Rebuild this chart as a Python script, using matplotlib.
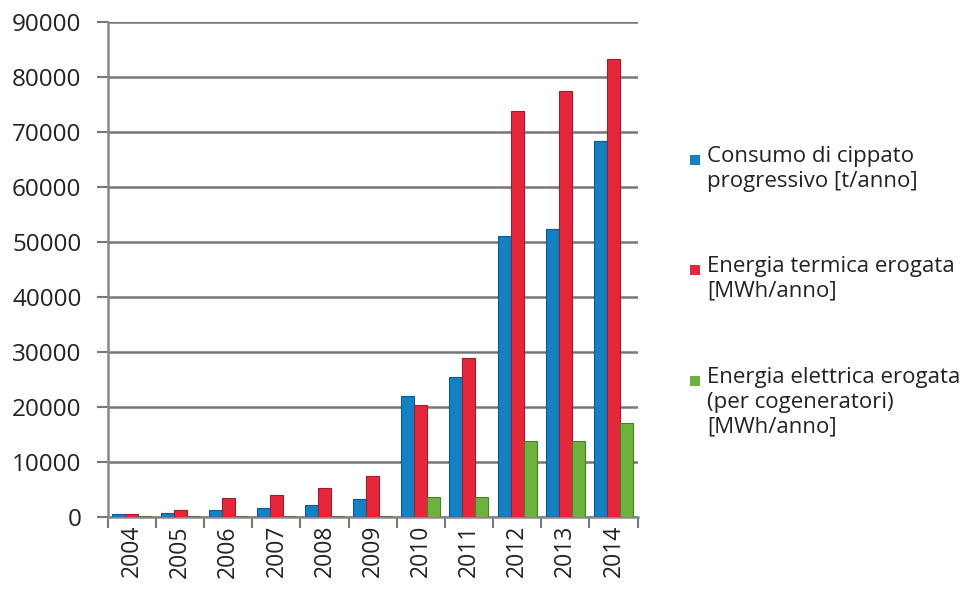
import numpy as np
import matplotlib
matplotlib.use('Agg')
import matplotlib.pyplot as plt
from matplotlib.patches import Rectangle

years = ['2004', '2005', '2006', '2007', '2008', '2009', '2010', '2011', '2012', '2013', '2014']
cippato = [500, 600, 1300, 1600, 2100, 3200, 22000, 25500, 51000, 52300, 68300]
termica = [500, 1200, 3400, 4000, 5200, 7400, 20300, 28800, 73800, 77500, 83300]
elettrica = [150, 150, 150, 150, 150, 150, 3600, 3600, 13700, 13700, 17000]

labels = ['Consumo di cippato\nprogressivo [t/anno]',
          'Energia termica erogata\n[MWh/anno]',
          'Energia elettrica erogata\n(per cogeneratori)\n[MWh/anno]']
colors = ['#1480c4', '#e4283c', '#6db23f']
edges = ['#0d5a8c', '#a51a2a', '#4a7f2a']

plt.rcParams['font.family'] = ['Open Sans', 'DejaVu Sans']

fig = plt.figure(figsize=(9.63, 5.94), dpi=100)
ax = fig.add_axes([0.112, 0.13, 0.55, 0.833])

x = np.arange(len(years))
w = 0.27
for i, (vals, c, e) in enumerate(zip([cippato, termica, elettrica], colors, edges)):
    ax.bar(x + (i - 1) * w, vals, width=w, color=c, edgecolor=e, linewidth=0.8, zorder=3)

ax.set_ylim(0, 90000)
ax.set_xlim(-0.5, len(years) - 0.5)
ax.set_yticks(range(0, 90001, 10000))
ax.set_yticklabels([str(v) for v in range(0, 90001, 10000)], fontsize=17.5, color='#222222')
ax.set_xticks(x)
ax.set_xticklabels(years, rotation=90, fontsize=16.5, color='#222222')
ax.tick_params(axis='x', length=0, pad=6)
ax.set_xticks(np.arange(-0.5, len(years), 1), minor=True)
ax.tick_params(axis='x', which='minor', length=8, color='#777777', width=1.5)
ax.tick_params(axis='y', length=8, color='#777777', width=1.5, pad=11)

ax.yaxis.grid(True, color='#777777', linewidth=1.8, zorder=0)
ax.set_axisbelow(True)
for s in ['top', 'right']:
    ax.spines[s].set_visible(False)
for s in ['left', 'bottom']:
    ax.spines[s].set_color('#888888')
    ax.spines[s].set_linewidth(1.8)

# legend drawn by hand so each swatch sits on the first line of its label
W, H = 963, 594
for lab, c, ytop in zip(labels, colors, [146, 256, 367]):
    fig.patches.append(Rectangle((690 / W, 1 - (ytop + 19) / H), 10 / W, 10 / H,
                                 facecolor=c, edgecolor='none', transform=fig.transFigure))
    fig.text(707 / W, 1 - ytop / H, lab, fontsize=16, color='#222222',
             va='top', ha='left', linespacing=1.25)

fig.savefig('out.png', dpi=100)
